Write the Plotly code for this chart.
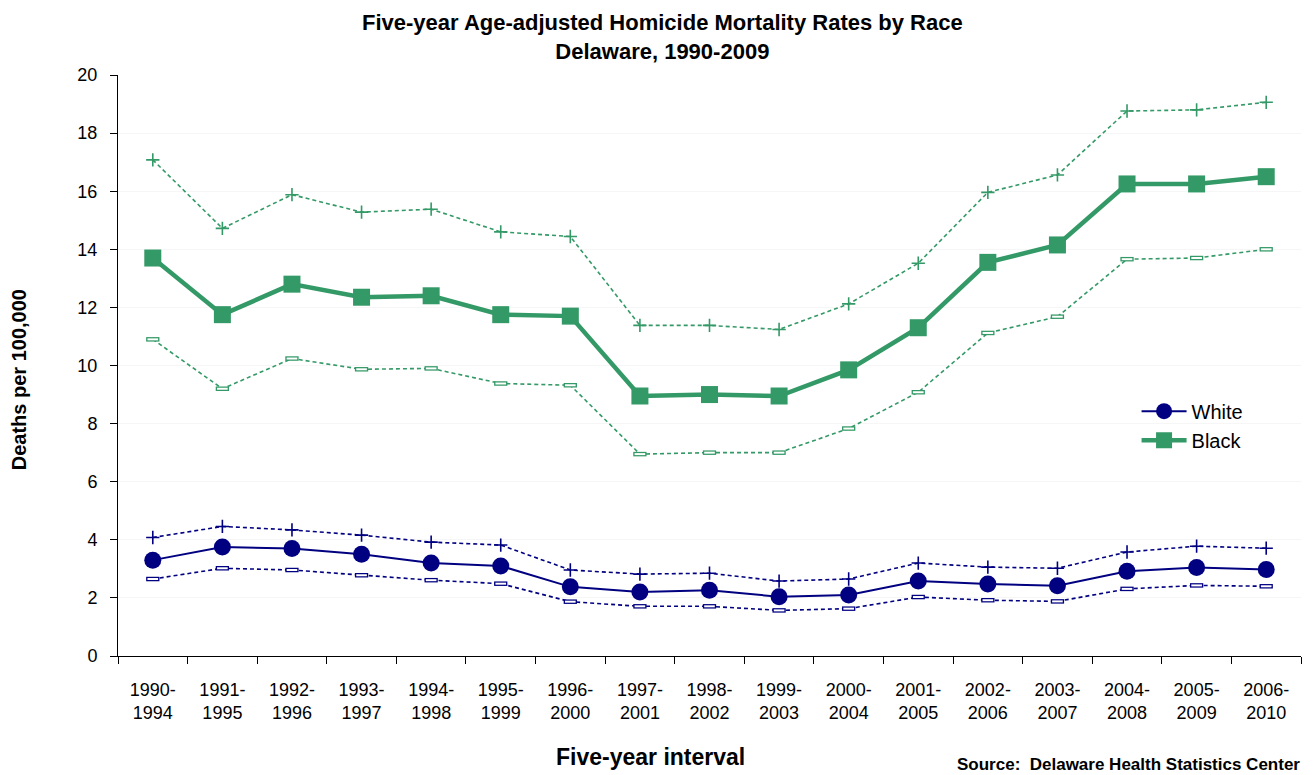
import plotly.graph_objects as go

intervals = ["1990-<br>1994", "1991-<br>1995", "1992-<br>1996", "1993-<br>1997", "1994-<br>1998",
             "1995-<br>1999", "1996-<br>2000", "1997-<br>2001", "1998-<br>2002", "1999-<br>2003",
             "2000-<br>2004", "2001-<br>2005", "2002-<br>2006", "2003-<br>2007", "2004-<br>2008",
             "2005-<br>2009", "2006-<br>2010"]

black_rate = [13.7, 11.75, 12.8, 12.35, 12.4, 11.75, 11.7, 8.95, 9.0, 8.95, 9.85, 11.3, 13.55, 14.15, 16.25, 16.25, 16.5]
black_upper = [17.08, 14.72, 15.88, 15.28, 15.38, 14.6, 14.44, 11.38, 11.38, 11.24, 12.12, 13.52, 15.96, 16.56, 18.76, 18.8, 19.06]
black_lower = [10.9, 9.2, 10.24, 9.87, 9.9, 9.38, 9.32, 6.95, 7.0, 7.0, 7.83, 9.08, 11.12, 11.68, 13.66, 13.7, 14.0]

white_rate = [3.3, 3.75, 3.7, 3.5, 3.2, 3.1, 2.38, 2.2, 2.26, 2.04, 2.1, 2.58, 2.48, 2.42, 2.92, 3.05, 2.98]
white_upper = [4.08, 4.46, 4.34, 4.16, 3.92, 3.82, 2.96, 2.82, 2.85, 2.58, 2.65, 3.2, 3.06, 3.02, 3.58, 3.78, 3.71]
white_lower = [2.65, 3.02, 2.96, 2.78, 2.61, 2.49, 1.87, 1.71, 1.71, 1.57, 1.63, 2.03, 1.92, 1.88, 2.31, 2.43, 2.4]

NAVY = "#000080"
GREEN = "#339966"
FONT = "Liberation Sans, Arial, sans-serif"

fig = go.Figure()


def upper_ci(y, color):
    fig.add_trace(go.Scatter(
        x=intervals, y=y, mode="lines+markers", showlegend=False, hoverinfo="skip",
        line=dict(color=color, width=1.6, dash="4px,3px"),
        marker=dict(symbol="cross-thin", size=9.5, line=dict(color=color, width=1.6)),
    ))


def lower_ci(y, color):
    fig.add_trace(go.Scatter(
        x=intervals, y=y, mode="lines+markers", showlegend=False, hoverinfo="skip",
        line=dict(color=color, width=1.6, dash="4px,3px"),
        marker=dict(symbol="line-ew", size=9.5, line=dict(color=color, width=4.5)),
    ))
    fig.add_trace(go.Scatter(
        x=intervals, y=y, mode="markers", showlegend=False, hoverinfo="skip",
        marker=dict(symbol="line-ew", size=7.6, line=dict(color="white", width=2)),
    ))


upper_ci(black_upper, GREEN)
lower_ci(black_lower, GREEN)
upper_ci(white_upper, NAVY)
lower_ci(white_lower, NAVY)

fig.add_trace(go.Scatter(
    x=intervals, y=white_rate, mode="lines+markers", name="White",
    line=dict(color=NAVY, width=2),
    marker=dict(symbol="circle", size=17, color=NAVY),
))
fig.add_trace(go.Scatter(
    x=intervals, y=black_rate, mode="lines+markers", name="Black",
    line=dict(color=GREEN, width=4.5),
    marker=dict(symbol="square", size=17, color=GREEN),
))

fig.update_layout(
    width=1307, height=767,
    margin=dict(l=110, r=14, t=67, b=119, autoexpand=False),
    paper_bgcolor="white", plot_bgcolor="white",
    font=dict(family=FONT, color="black", size=18),
    legend=dict(x=0.861, y=0.455, xanchor="left", yanchor="top", bgcolor="rgba(0,0,0,0)",
                font=dict(size=20), itemwidth=45, tracegroupgap=4),
    showlegend=True,
)
fig.update_xaxes(
    showline=True, linecolor="black", linewidth=1, ticks="outside", ticklen=7, tickcolor="black",
    tickson="boundaries", showgrid=False, ticklabelstandoff=17, tickfont=dict(size=18),
    range=[-0.5, 16.5], automargin=False,
)
fig.update_yaxes(
    range=[0, 20], dtick=2, showline=True, linecolor="black", linewidth=1, ticks="outside",
    ticklen=7, tickcolor="black", showgrid=True, gridcolor="#f6f6f6", zeroline=False,
    tickfont=dict(size=18), ticklabelstandoff=9, automargin=False,
)

fig.add_annotation(
    text="<b>Five-year Age-adjusted Homicide Mortality Rates by Race<br>Delaware, 1990-2009</b>",
    xref="paper", yref="paper", x=0.46, y=1.065, xanchor="center", yanchor="middle",
    showarrow=False, font=dict(size=22),
)
fig.add_annotation(
    text="<b>Deaths per 100,000</b>", xref="paper", yref="paper", x=-0.0835, y=0.475,
    xanchor="center", yanchor="middle", textangle=-90, showarrow=False, font=dict(size=20),
)
fig.add_annotation(
    text="<b>Five-year interval</b>", xref="paper", yref="paper", x=0.45, y=-0.174,
    xanchor="center", yanchor="middle", showarrow=False, font=dict(size=23),
)
fig.add_annotation(
    text="<b>Source:  Delaware Health Statistics Center</b>", xref="paper", yref="paper",
    x=0.7075, y=-0.187, xanchor="left", yanchor="middle", showarrow=False, font=dict(size=17),
)

fig.write_html("out.html")
